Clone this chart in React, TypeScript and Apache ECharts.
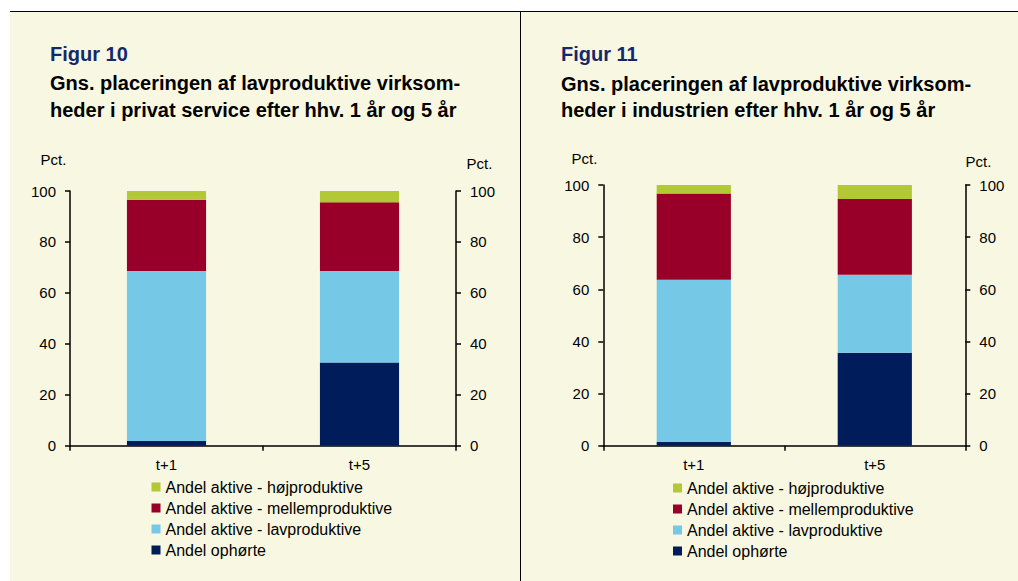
import React, { useEffect, useRef } from "react";
import * as echarts from "echarts";

const categories = ["t+1", "t+5"];
const seriesNames = [
  "Andel ophørte",
  "Andel aktive - lavproduktive",
  "Andel aktive - mellemproduktive",
  "Andel aktive - højproduktive",
];
const legendOrder = [
  "Andel aktive - højproduktive",
  "Andel aktive - mellemproduktive",
  "Andel aktive - lavproduktive",
  "Andel ophørte",
];
const colors = ["#001C5A", "#75C8E6", "#990029", "#B2C935"];

// Figur 10 – privat service
const serviceOphoerte = [1.8, 32.7];
const serviceLav = [66.8, 35.9];
const serviceMellem = [28.0, 27.0];
const serviceHoej = [3.4, 4.4];

// Figur 11 – industrien
const industriOphoerte = [1.5, 35.7];
const industriLav = [62.2, 29.9];
const industriMellem = [33.0, 29.0];
const industriHoej = [3.3, 5.4];

const yTicks = { min: 0, max: 100, interval: 20 };

const FONT = "Arial";
const BG = "#F8F8E2";

export default function App() {
  const ref = useRef<HTMLDivElement>(null);
  useEffect(() => {
    if (!ref.current) return;
    const chart = echarts.init(ref.current, null, { renderer: "svg" });
    const axisCommon = {
      axisLine: { show: true, lineStyle: { color: "#000", width: 1.5 } },
      axisTick: { show: true, length: 5, lineStyle: { color: "#000", width: 1.5 } },
      splitLine: { show: false },
      axisLabel: { color: "#000", fontSize: 15, fontFamily: FONT, margin: 14 },
    };
    const yAxis = (grid: number, pos: "left" | "right") => ({
      type: "value",
      gridIndex: grid,
      position: pos,
      ...yTicks,
      ...axisCommon,
    });
    const xAxis = (grid: number) => ({
      type: "category",
      gridIndex: grid,
      data: categories,
      boundaryGap: true,
      ...axisCommon,
      axisLabel: { ...axisCommon.axisLabel, margin: 11 },
      axisTick: { ...axisCommon.axisTick, alignWithLabel: false, interval: 0 },
    });
    const makeSeries = (grid: number, data: number[][], width: string) =>
      data.map((d, i) => ({
        type: "bar",
        name: seriesNames[i],
        stack: "s" + grid,
        xAxisIndex: grid,
        yAxisIndex: grid * 2,
        data: d,
        barWidth: width,
        itemStyle: { color: colors[i] },
      }));
    const legendText = { color: "#000", fontSize: 16, fontFamily: FONT };
    const legend = (left: number, top: number) => ({
      orient: "vertical",
      left,
      top,
      data: legendOrder.map((name) => ({ name, textStyle: legendText })),
      icon: "rect",
      itemWidth: 9,
      itemHeight: 9,
      itemGap: 5,
      padding: 0,
      selectedMode: false,
      textStyle: legendText,
    });
    const txt = (x: number, y: number, text: string, size: number, bold: boolean, color = "#000") => ({
      type: "text",
      x,
      y,
      style: {
        text,
        fill: color,
        fontSize: size,
        fontWeight: bold ? "bold" : "normal",
        fontFamily: FONT,
        verticalAlign: "middle",
        align: "left",
      },
    });
    chart.setOption({
      animation: false,
      backgroundColor: "#fff",
      graphic: [
        { type: "rect", shape: { x: 10, y: 11, width: 1008, height: 570 }, style: { fill: BG }, z: -10 },
        { type: "line", shape: { x1: 10, y1: 11.5, x2: 1018, y2: 11.5 }, style: { stroke: "#000", lineWidth: 1 } },
        { type: "line", shape: { x1: 520.5, y1: 11, x2: 520.5, y2: 581 }, style: { stroke: "#000", lineWidth: 1 } },
        txt(50, 54, "Figur 10", 20, true, "#14286E"),
        txt(50, 83, "Gns. placeringen af lavproduktive virksom-", 20, true),
        txt(50, 109.7, "heder i privat service efter hhv. 1 år og 5 år", 20, true),
        txt(561, 53.5, "Figur 11", 20, true, "#14286E"),
        txt(561, 83.5, "Gns. placeringen af lavproduktive virksom-", 20, true),
        txt(561, 109.7, "heder i industrien efter hhv. 1 år og 5 år", 20, true),
        txt(40.5, 159.5, "Pct.", 15, false),
        txt(466.5, 163.5, "Pct.", 15, false),
        txt(571.5, 158.5, "Pct.", 15, false),
        txt(965.5, 161.5, "Pct.", 15, false),
      ],
      grid: [
        { left: 70, right: 562, top: 191, bottom: 135.3 },
        { left: 603.3, right: 52.7, top: 185, bottom: 135.3 },
      ],
      xAxis: [xAxis(0), xAxis(1)],
      yAxis: [yAxis(0, "left"), yAxis(0, "right"), yAxis(1, "left"), yAxis(1, "right")],
      legend: [legend(151.5, 479), legend(673, 480)],
      series: [
        ...makeSeries(0, [serviceOphoerte, serviceLav, serviceMellem, serviceHoej], "41%"),
        ...makeSeries(1, [industriOphoerte, industriLav, industriMellem, industriHoej], "41%"),
      ],
    });
    return () => chart.dispose();
  }, []);
  return (
    <div
      ref={ref}
      style={{ position: "fixed", left: 0, top: 0, width: 1018, height: 581 }}
    />
  );
}
